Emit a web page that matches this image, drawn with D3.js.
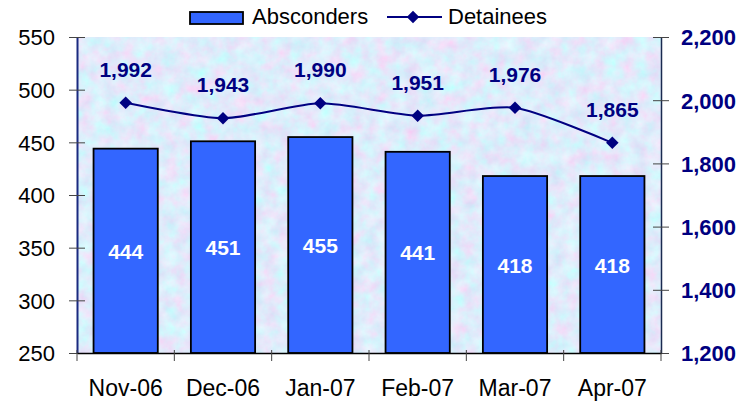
<!DOCTYPE html>
<html>
<head>
<meta charset="utf-8">
<script src="https://cdn.jsdelivr.net/npm/d3@7"></script>
<style>
  body { margin: 0; background: #fff; }
  svg text { font-family: "Liberation Sans", Arial, sans-serif; }
</style>
</head>
<body>
<div class="js-chart"></div>
<script>
// Chart values
const months = ["Nov-06", "Dec-06", "Jan-07", "Feb-07", "Mar-07", "Apr-07"];
const absconders = [444, 451, 455, 441, 418, 418];
const detainees = [1992, 1943, 1990, 1951, 1976, 1865];
const leftTicks = [250, 300, 350, 400, 450, 500, 550];
const rightTicks = [1200, 1400, 1600, 1800, 2000, 2200];

const width = 756, height = 402;
const margin = { top: 37, right: 95, bottom: 49, left: 77 };
const innerW = width - margin.left - margin.right;
const innerH = height - margin.top - margin.bottom;
const navy = "#000080";
const font = "Liberation Sans, Arial, sans-serif";

const svg = d3.select(".js-chart").append("svg")
  .attr("width", width)
  .attr("height", height);

// mottled blue / pink / cyan texture for the plot area
const defs = svg.append("defs");
const filt = defs.append("filter").attr("id", "paper")
  .attr("x", 0).attr("y", 0).attr("width", 1).attr("height", 1);
filt.append("feTurbulence")
  .attr("type", "fractalNoise")
  .attr("baseFrequency", 0.07)
  .attr("numOctaves", 4)
  .attr("seed", 11)
  .attr("result", "noise");
filt.append("feColorMatrix")
  .attr("in", "noise")
  .attr("type", "matrix")
  .attr("values",
    "0.45 -0.2 0 0 0.615 " +
    "-0.15 0.4 0 0 0.71 " +
    "0 0.1 0 0 0.91 " +
    "0 0 0 0 1");

const g = svg.append("g").attr("transform", `translate(${margin.left},${margin.top})`);

g.append("rect")
  .attr("width", innerW).attr("height", innerH)
  .attr("fill", "#c4d4f6")
  .attr("filter", "url(#paper)");

const x = d3.scaleBand().domain(months).range([0, innerW]).paddingInner(0.34).paddingOuter(0.17);
const yL = d3.scaleLinear().domain([250, 550]).range([innerH, 0]);
const yR = d3.scaleLinear().domain([1200, 2200]).range([innerH, 0]);

// bars
g.selectAll(".bar").data(absconders).enter()
  .append("rect")
  .attr("class", "bar")
  .attr("x", (d, i) => x(months[i]))
  .attr("y", d => yL(d))
  .attr("width", x.bandwidth())
  .attr("height", d => innerH - yL(d))
  .attr("fill", "#3366ff")
  .attr("stroke", "#000")
  .attr("stroke-width", 1.8);

g.selectAll(".barlabel").data(absconders).enter()
  .append("text")
  .attr("x", (d, i) => x(months[i]) + x.bandwidth() / 2)
  .attr("y", d => (yL(d) + innerH) / 2 + 8)
  .attr("text-anchor", "middle")
  .attr("fill", "#fff")
  .attr("font-weight", "bold")
  .attr("font-size", 21)
  .text(d => d);

// axes
const fmt = d3.format(",");
const axL = g.append("g").call(d3.axisLeft(yL).tickValues(leftTicks).tickSizeInner(7).tickSizeOuter(0).tickPadding(15));
axL.selectAll(".tick line").attr("x2", -8).attr("x1", 8).attr("stroke", "#444");
axL.select(".domain").attr("stroke", "#1a2a80").attr("stroke-width", 2);
axL.selectAll("text").attr("font-size", 22).attr("fill", "#000").attr("font-family", font)
  .attr("dy", "0.36em");

const axR = g.append("g").attr("transform", `translate(${innerW},0)`)
  .call(d3.axisRight(yR).tickValues(rightTicks).tickFormat(fmt).tickSizeInner(8).tickSizeOuter(0).tickPadding(12));
axR.selectAll(".tick line").attr("x1", -8).attr("stroke", "#444");
axR.select(".domain").attr("stroke", "#1a2a50").attr("stroke-width", 1.5);
axR.selectAll("text").attr("font-size", 22).attr("fill", navy).attr("font-weight", "bold")
  .attr("font-family", font).attr("dy", "0.36em");

const axB = g.append("g").attr("transform", `translate(0,${innerH})`)
  .call(d3.axisBottom(x).tickSize(0).tickPadding(27));
axB.select(".domain").attr("stroke", "#000").attr("stroke-width", 1.5);
axB.selectAll("text").attr("font-size", 23).attr("fill", "#000").attr("font-family", font);

// tick marks between categories
const bounds = d3.range(months.length + 1).map(i => i * innerW / months.length);
g.append("g").selectAll("line").data(bounds).enter()
  .append("line")
  .attr("x1", d => d).attr("x2", d => d)
  .attr("y1", innerH - 3).attr("y2", innerH + 8)
  .attr("stroke", "#444");

// detainees line, smoothed
const pts = detainees.map((d, i) => [x(months[i]) + x.bandwidth() / 2, yR(d)]);
g.append("path")
  .attr("d", d3.line().curve(d3.curveCardinal.tension(0.3))(pts))
  .attr("fill", "none")
  .attr("stroke", navy)
  .attr("stroke-width", 2);

const diamond = d3.symbol().type(d3.symbolDiamond2 || d3.symbolDiamond).size(100);
g.selectAll(".pt").data(pts).enter()
  .append("path")
  .attr("transform", d => `translate(${d[0]},${d[1]})`)
  .attr("d", diamond)
  .attr("fill", navy);

g.selectAll(".ptlabel").data(detainees).enter()
  .append("text")
  .attr("x", (d, i) => pts[i][0])
  .attr("y", (d, i) => pts[i][1] - 26)
  .attr("text-anchor", "middle")
  .attr("fill", navy)
  .attr("font-weight", "bold")
  .attr("font-size", 21)
  .text(d => fmt(d));

// legend
const lg = svg.append("g");
lg.append("rect").attr("x", 190).attr("y", 12).attr("width", 53).attr("height", 12)
  .attr("fill", "#3366ff").attr("stroke", "#000").attr("stroke-width", 1.8);
lg.append("text").attr("x", 252).attr("y", 24).attr("font-size", 22).text("Absconders");
lg.append("line").attr("x1", 387).attr("x2", 442).attr("y1", 17).attr("y2", 17)
  .attr("stroke", navy).attr("stroke-width", 2);
lg.append("path").attr("transform", "translate(413,17)").attr("d", diamond).attr("fill", navy);
lg.append("text").attr("x", 448).attr("y", 24).attr("font-size", 22).text("Detainees");
</script>
</body>
</html>
